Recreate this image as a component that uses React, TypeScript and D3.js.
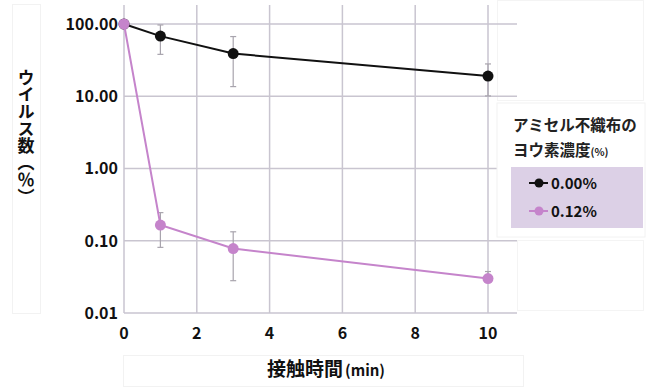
import React from "react";
import * as d3 from "d3";

const times = [0, 1, 3, 10];
const seriesNames = ["0.00%", "0.12%"];
const seriesColors = ["#111111", "#c584cb"];
const valuesBlack = [100, 68, 39, 19];
const errLowBlack = [100, 38, 13.6, 10.1];
const errHighBlack = [100, 97, 67, 28];
const valuesPurple = [100, 0.165, 0.078, 0.03];
const errLowPurple = [100, 0.081, 0.028, 0.0265];
const errHighPurple = [100, 0.245, 0.133, 0.0375];
const xTicks = [0, 2, 4, 6, 8, 10];
const yTicks = [0.01, 0.1, 1, 10, 100];
const yTickLabels = ["0.01", "0.10", "1.00", "10.00", "100.00"];
const yTitle = "ウイルス数（％）";
const xTitle = "接触時間";
const xTitleUnit = "(min)";
const legendTitle1 = "アミセル不織布の";
const legendTitle2 = "ヨウ素濃度";
const legendTitleUnit = "(%)";

const FONT = "'Noto Sans CJK JP', 'Noto Sans', sans-serif";

export default function App() {
  const x = d3.scaleLinear().domain([0, 10]).range([124, 488]);
  const y = d3.scaleLog().domain([0.01, 100]).range([313, 24]);
  const gridColor = "#c9c5d0";
  const line = d3
    .line<number>()
    .x((_, i) => x(times[i]))
    .y((d) => y(d));

  const series = [
    { vals: valuesBlack, lo: errLowBlack, hi: errHighBlack },
    { vals: valuesPurple, lo: errLowPurple, hi: errHighPurple },
  ];

  return (
    <svg
      width={657}
      height={387}
      style={{ position: "absolute", left: 0, top: 0, background: "#fff" }}
      fontFamily={FONT}
    >
      {/* faint panels */}
      <rect x={12.5} y={4.5} width={28} height={309} fill="none" stroke="#f2f2f2" />
      <rect x={123.5} y={355.5} width={400} height={31} fill="none" stroke="#f2f2f2" />
      <rect x={497.5} y={0.5} width={146} height={100} fill="none" stroke="#f4f4f4" />
      <rect x={517.5} y={240.5} width={126} height={70} fill="none" stroke="#f4f4f4" />

      {/* grid */}
      {xTicks.map((t) => (
        <line key={"gx" + t} x1={x(t)} x2={x(t)} y1={5} y2={313} stroke={gridColor} strokeWidth={1.5} />
      ))}
      {yTicks.map((t) => (
        <line key={"gy" + t} x1={124} x2={517} y1={y(t)} y2={y(t)} stroke={gridColor} strokeWidth={1.5} />
      ))}

      {/* legend panel */}
      <rect x={497} y={103} width={148} height={134} fill="#ffffff" stroke="#f2f2f2" />
      <text x={513} y={131} fontSize={15.5} fontWeight={700} fill="#222">{legendTitle1}</text>
      <text x={513} y={156} fontSize={15.5} fontWeight={700} fill="#222">
        {legendTitle2}
        <tspan fontSize={10.5}>{legendTitleUnit}</tspan>
      </text>
      <rect x={511} y={167} width={132} height={61} fill="#dcd0e6" />
      {seriesNames.map((n, i) => {
        const ly = 183 + i * 28;
        return (
          <g key={n}>
            <line x1={529} x2={548} y1={ly} y2={ly} stroke={seriesColors[i]} strokeWidth={2} />
            <circle cx={539} cy={ly} r={4.5} fill={seriesColors[i]} />
            <text x={551} y={ly + 5.5} fontSize={15} fontWeight={700} fill="#111">{n}</text>
          </g>
        );
      })}

      {/* error bars */}
      {series.map((s, si) =>
        times.map((t, i) =>
          i === 0 ? null : (
            <g key={"e" + si + i} stroke="#a8a4ad" strokeWidth={1.2}>
              <line x1={x(t)} x2={x(t)} y1={y(s.lo[i])} y2={y(s.hi[i])} />
              <line x1={x(t) - 3} x2={x(t) + 3} y1={y(s.lo[i])} y2={y(s.lo[i])} />
              <line x1={x(t) - 3} x2={x(t) + 3} y1={y(s.hi[i])} y2={y(s.hi[i])} />
            </g>
          )
        )
      )}

      {/* lines & points */}
      {series.map((s, si) => (
        <g key={"s" + si}>
          <path d={line(s.vals) || ""} fill="none" stroke={seriesColors[si]} strokeWidth={2} />
          {s.vals.map((v, i) => (
            <circle key={i} cx={x(times[i])} cy={y(v)} r={5.5} fill={seriesColors[si]} />
          ))}
        </g>
      ))}

      {/* tick labels */}
      {yTicks.map((t, i) => (
        <text key={"yl" + t} x={118} y={y(t)} dy="0.36em" textAnchor="end" fontSize={16} fontWeight={700} fill="#111">
          {yTickLabels[i]}
        </text>
      ))}
      {xTicks.map((t) => (
        <text key={"xl" + t} x={x(t)} y={339} textAnchor="middle" fontSize={16} fontWeight={700} fill="#111">
          {t}
        </text>
      ))}

      {/* axis titles */}
      <text
        x={26}
        y={69}
        fontSize={17}
        fontWeight={700}
        fill="#111"
        style={{ writingMode: "vertical-rl" } as any}
      >
        {yTitle}
      </text>
      <text x={326} y={376} textAnchor="middle" fontSize={19} fontWeight={700} fill="#111">
        {xTitle}
        <tspan fontSize={15} dx={2}>{xTitleUnit}</tspan>
      </text>
    </svg>
  );
}
